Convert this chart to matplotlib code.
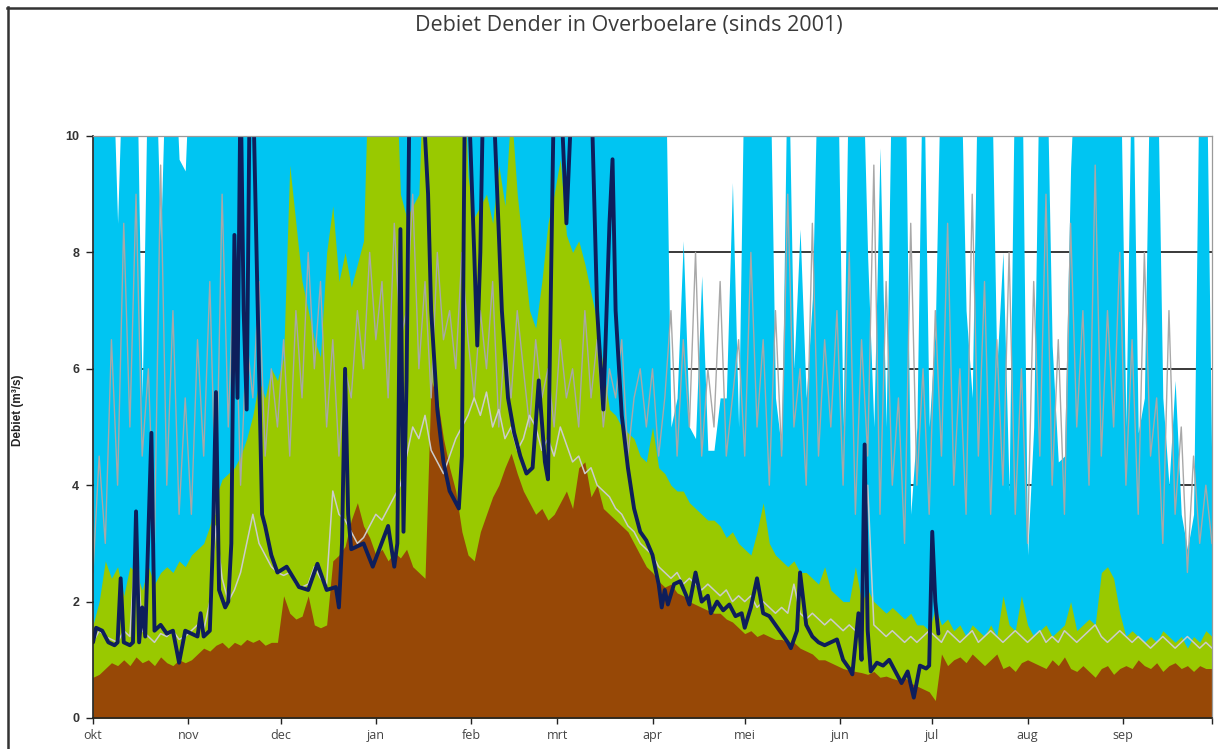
import numpy as np
import matplotlib
matplotlib.use("Agg")
import matplotlib.pyplot as plt
from matplotlib.lines import Line2D

# ---------------- data ----------------
title = "Debiet Dender in Overboelare (sinds 2001)"
ylabel = "Debiet (m\u00b3/s)"
month_labels = ["okt", "nov", "dec", "jan", "feb", "mrt", "apr", "mei", "jun", "jul", "aug", "sep"]
month_days = [31, 30, 31, 31, 28, 31, 30, 31, 30, 31, 31, 30]
y_ticks = [0, 2, 4, 6, 8, 10]

# background series, one value every 2 days from 1 October (values > 10 are off-scale)
q_max = [
    12, 12, 12, 12, 8.5, 12, 12, 12, 5.5, 12, 12, 8.2, 12, 12, 9.6, 9.4,            # okt
    12, 12, 12, 12, 12, 12, 12, 12, 12, 12, 12, 12, 12, 12, 12,                     # nov
    12, 12, 12, 12, 12, 12, 12, 12, 12, 12, 12, 12, 12, 12, 12,                     # dec
    12, 12, 12, 12, 12, 12, 12, 12, 12, 12, 12, 12, 12, 12, 12, 12,                 # jan
    12, 12, 12, 12, 12, 12, 12, 12, 12, 12, 12, 12, 12, 12,                         # feb
    12, 12, 12, 12, 12, 12, 12, 12, 12, 12, 12, 12, 12, 12, 12,                     # mrt
    12, 12, 12, 5.0, 5.5, 8.2, 5.0, 4.8, 7.6, 4.6, 4.6, 5.5, 5.5, 9.2, 5.0,         # apr
    12, 12, 12, 12, 12, 5.5, 4.6, 12, 6.0, 8.4, 5.5, 7.2, 12, 12, 12, 12,           # mei
    5.0, 12, 12, 12, 7.9, 5.0, 9.8, 5.0, 12, 12, 12, 3.5, 5.0, 12, 5.0,             # jun
    6.7, 12, 12, 12, 12, 7.0, 5.5, 12, 12, 12, 6.0, 8.0, 3.9, 12, 12,               # jul
    2.8, 5.0, 12, 12, 6.4, 4.4, 4.5, 9.45, 12, 12, 12, 12, 12, 12, 12, 12,          # aug
    5.0, 12, 4.9, 5.5, 12, 12, 5.5, 4.0, 5.8, 3.5, 2.9, 3.5, 12, 12, 4.0,           # sep
]
q_high = [
    1.6, 2.0, 2.7, 2.4, 2.6, 2.1, 2.6, 2.5, 2.2, 2.6, 2.3, 2.5, 2.6, 2.5, 2.7, 2.6,
    2.8, 2.9, 3.0, 3.3, 3.8, 4.1, 4.2, 4.3, 4.5, 4.8, 5.2, 5.8, 5.5, 6.0, 5.8,
    6.2, 9.5, 8.5, 7.5, 7.0, 6.5, 6.2, 8.0, 8.8, 7.5, 8.0, 7.4, 7.8, 8.2, 12,
    12, 12, 12, 12, 9.0, 8.6, 8.8, 9.0, 12, 12, 12, 12, 12, 10.5, 12, 9.3,
    8.6, 8.8, 9.0, 8.5, 9.5, 8.8, 10.5, 9.0, 8.0, 7.0, 6.7, 7.5, 8.5, 9.0,
    9.6, 8.3, 8.0, 8.2, 7.8, 7.3, 6.8, 6.0, 5.3, 5.2, 5.0, 4.9, 4.8, 4.5, 4.4,
    5.0, 4.3, 4.2, 4.0, 3.9, 3.9, 3.7, 3.6, 3.5, 3.4, 3.4, 3.3, 3.1, 3.2, 3.0,
    2.9, 2.8, 3.2, 3.7, 3.0, 2.8, 2.7, 2.6, 2.7, 2.5, 2.5, 2.4, 2.3, 2.6, 2.2, 2.1,
    2.0, 2.0, 2.6, 2.0, 2.2, 2.0, 1.9, 1.8, 1.9, 1.8, 1.7, 1.8, 1.6, 1.6, 1.5,
    1.9, 1.6, 1.7, 1.5, 1.6, 1.4, 1.6, 1.5, 1.4, 1.6, 1.4, 2.1, 1.6, 1.5, 2.1,
    1.6, 1.4, 1.5, 1.6, 1.4, 1.5, 1.6, 2.0, 1.5, 1.6, 1.7, 1.6, 2.5, 2.6, 2.4, 1.8,
    1.4, 1.5, 1.4, 1.3, 1.4, 1.3, 1.5, 1.4, 1.3, 1.4, 1.2, 1.4, 1.3, 1.5, 1.4,
]
q_min = [
    0.7, 0.75, 0.85, 0.95, 0.9, 1.0, 0.9, 1.05, 0.95, 1.0, 0.9, 1.05, 0.95, 0.9, 1.0, 0.95,
    1.0, 1.1, 1.2, 1.15, 1.25, 1.3, 1.2, 1.3, 1.25, 1.35, 1.3, 1.35, 1.25, 1.3, 1.3,
    2.1, 1.8, 1.7, 1.75, 2.1, 1.6, 1.55, 1.6, 2.7, 2.8, 2.95, 3.4, 3.7, 3.3, 3.1,
    2.8, 2.9, 2.7, 2.85, 2.75, 2.9, 2.6, 2.5, 2.4, 5.8, 5.5, 4.8, 4.3, 3.9, 3.2, 2.8,
    2.7, 3.2, 3.5, 3.8, 4.0, 4.3, 4.55, 4.2, 3.9, 3.7, 3.5, 3.6, 3.4, 3.5,
    3.7, 3.9, 3.6, 4.3, 4.4, 3.8, 4.0, 3.6, 3.5, 3.4, 3.3, 3.2, 3.0, 2.8, 2.6,
    2.5, 2.35, 2.25, 2.3, 2.15, 2.1, 2.0, 1.95, 1.9, 1.85, 1.8, 1.8, 1.7, 1.65, 1.55,
    1.45, 1.5, 1.4, 1.45, 1.4, 1.35, 1.35, 1.3, 1.3, 1.2, 1.15, 1.1, 1.0, 1.0, 0.95, 0.9,
    0.85, 0.82, 0.8, 0.78, 0.75, 0.8, 0.7, 0.72, 0.68, 0.65, 0.7, 0.6, 0.55, 0.5, 0.45,
    0.3, 1.1, 0.9, 1.0, 1.05, 0.95, 1.1, 1.0, 0.9, 1.0, 1.1, 0.85, 0.9, 0.8, 0.95,
    1.0, 0.95, 0.9, 0.85, 1.0, 0.9, 1.05, 0.85, 0.8, 0.9, 0.8, 0.7, 0.85, 0.9, 0.75, 0.85,
    0.9, 0.85, 1.0, 0.9, 0.85, 0.95, 0.8, 0.9, 0.95, 0.85, 0.9, 0.8, 0.9, 0.85, 0.85,
]
q_grey_a = [
    2.5, 4.5, 3.0, 6.5, 4.0, 8.5, 5.0, 9.0, 4.5, 6.0, 3.0, 9.5, 4.0, 7.0, 3.5, 5.5,
    3.5, 6.5, 4.5, 7.5, 3.5, 9.0, 5.0, 8.0, 4.0, 6.5, 5.5, 7.5, 4.5, 6.0, 5.0,
    6.5, 4.5, 7.0, 5.5, 8.0, 6.0, 7.5, 5.0, 6.5, 4.5, 6.0, 5.5, 7.0, 6.0, 8.0,
    6.5, 7.5, 5.5, 8.5, 6.5, 7.0, 9.0, 6.0, 7.5, 5.5, 8.0, 6.5, 7.0, 6.0, 8.0, 6.5,
    5.5, 7.0, 6.0, 7.5, 5.0, 6.5, 5.5, 7.0, 6.0, 5.0, 6.5, 5.5, 6.0, 5.0,
    6.5, 5.5, 6.0, 5.0, 7.0, 5.5, 6.5, 5.0, 6.0, 5.5, 6.5, 4.5, 5.5, 6.0, 5.0,
    6.0, 4.5, 5.5, 7.0, 4.5, 6.5, 5.0, 8.0, 4.5, 6.0, 5.0, 7.5, 4.5, 5.5, 6.5,
    4.5, 8.0, 5.0, 6.5, 4.0, 7.0, 4.5, 9.0, 5.0, 6.0, 4.0, 8.5, 4.5, 6.5, 5.0, 7.0,
    4.0, 8.0, 3.5, 6.5, 4.5, 9.5, 3.5, 7.5, 4.0, 5.5, 3.0, 8.5, 4.0, 6.0, 3.5,
    7.0, 4.5, 8.5, 4.0, 6.0, 3.5, 9.0, 4.5, 7.5, 3.5, 6.5, 4.0, 8.0, 3.5, 6.0,
    3.0, 7.5, 4.5, 9.0, 4.0, 6.5, 3.5, 8.5, 5.0, 7.0, 4.0, 9.5, 4.5, 7.0, 5.0, 8.0,
    4.0, 6.5, 3.5, 8.0, 4.5, 5.5, 3.0, 7.0, 3.5, 5.0, 2.5, 4.5, 3.0, 4.0, 3.0,
]
q_grey_b = [
    1.3, 1.5, 1.4, 1.35, 1.3, 1.5, 1.4, 3.2, 1.5, 1.4, 1.3, 1.45, 1.4, 1.5, 1.35, 1.4,
    1.5, 1.6, 1.5, 2.0, 3.3, 2.4, 2.0, 2.2, 2.5, 3.0, 3.5, 3.0, 2.8, 2.6, 2.5,
    2.45, 2.5, 2.3, 2.25, 2.3, 2.6, 2.4, 2.3, 3.9, 3.5, 3.4, 3.2, 3.0, 3.1, 3.3,
    3.5, 3.4, 3.6, 3.8, 4.0, 4.5, 5.0, 4.8, 5.2, 4.6, 4.4, 4.2, 4.5, 4.8, 5.0, 5.2,
    5.5, 5.2, 5.6, 5.0, 5.3, 4.8, 5.0, 4.6, 4.8, 5.2, 5.0, 4.6, 4.8, 4.5,
    5.0, 4.7, 4.4, 4.5, 4.2, 4.3, 4.0, 3.9, 3.8, 3.6, 3.5, 3.3, 3.2, 3.0, 2.9,
    2.8, 2.6, 2.5, 2.4, 2.5, 2.3, 2.4, 2.3, 2.2, 2.3, 2.2, 2.1, 2.2, 2.0, 2.1,
    2.0, 2.1, 1.9, 2.0, 1.9, 1.8, 1.9, 1.8, 2.3, 1.8, 1.7, 1.8, 1.7, 1.6, 1.7, 1.6,
    1.5, 1.6, 1.5, 1.5, 4.0, 1.6, 1.5, 1.4, 1.5, 1.4, 1.3, 1.4, 1.3, 1.4, 1.5,
    1.4, 1.3, 1.5, 1.4, 1.3, 1.4, 1.5, 1.3, 1.4, 1.5, 1.4, 1.3, 1.4, 1.5, 1.4,
    1.3, 1.4, 1.5, 1.3, 1.4, 1.3, 1.5, 1.4, 1.3, 1.4, 1.5, 1.6, 1.4, 1.3, 1.4, 1.5,
    1.4, 1.3, 1.4, 1.3, 1.2, 1.3, 1.4, 1.3, 1.2, 1.3, 1.4, 1.3, 1.2, 1.3, 1.2,
]

# current hydrological year (day since 1 October, value)
navy_day = [0, 1, 3, 5, 7, 8, 9, 10, 12, 13, 14, 15, 16, 17, 19, 20, 22, 24, 26, 28, 30,
            32, 34, 35, 36, 38, 39, 40, 41, 43, 44, 45, 46, 47, 48, 49, 50, 51, 52, 54, 55,
            56, 58, 60, 63, 67, 70, 73, 76, 79, 80, 81, 82, 83, 84, 88, 91, 96, 98, 99, 100,
            101, 102, 103, 105, 107, 109, 110, 112, 114, 116, 119, 120, 121, 122, 124, 125,
            126, 127, 130, 133, 135, 137, 139, 141, 143, 145, 147, 148, 150, 152, 154, 156,
            158, 160, 162, 164, 166, 168, 169, 170, 172, 174, 176, 178, 180, 182, 184, 185,
            186, 187, 189, 191, 193, 194, 196, 198, 200, 201, 203, 205, 207, 209, 211, 212,
            214, 216, 218, 220, 222, 224, 226, 227, 229, 230, 232, 234, 236, 238, 240, 242,
            244, 246, 247, 249, 250, 251, 252, 253, 255, 257, 259, 261, 263, 265, 267, 269,
            271, 272, 273, 274, 275]
navy_val = [1.3, 1.55, 1.5, 1.3, 1.25, 1.3, 2.4, 1.3, 1.25, 1.3, 3.55, 1.3, 1.9, 1.4, 4.9, 1.5,
            1.6, 1.45, 1.5, 0.95, 1.5,
            1.45, 1.4, 1.8, 1.4, 1.5, 3.0, 5.6, 2.2, 1.9, 2.0, 3.0, 8.3, 5.5, 11, 7.0, 5.3, 11,
            11, 6.0, 3.5,
            3.3, 2.8, 2.5, 2.6, 2.25, 2.2, 2.65, 2.2, 2.25, 1.9, 3.0, 6.0, 3.5, 2.9, 3.0, 2.6,
            3.3, 2.6, 3.0, 8.4,
            3.2, 5.8, 11, 11, 11, 9.0, 7.0, 5.3, 4.4, 3.9, 3.6, 4.5, 11, 11, 8.0, 6.4,
            8.0, 11, 11, 7.0, 5.5, 4.9, 4.5, 4.2, 4.3, 5.8, 4.4, 4.1, 11, 11, 8.5, 11,
            11, 11, 11, 7.0, 5.3, 8.5, 9.6, 7.0, 5.2, 4.3, 3.6, 3.2, 3.05, 2.8, 2.3, 1.9,
            2.2, 1.95, 2.3, 2.35, 2.1, 1.95, 2.5, 2.0, 2.1, 1.8, 2.0, 1.85, 1.95, 1.75, 1.8,
            1.55,
            1.9, 2.4, 1.8, 1.75, 1.6, 1.45, 1.3, 1.2, 1.5, 2.5, 1.6, 1.4, 1.3, 1.25, 1.3, 1.35,
            1.0, 0.85, 0.75, 1.8, 1.0, 4.7, 1.5, 0.8, 0.95, 0.9, 1.0, 0.8, 0.6, 0.8, 0.35, 0.9,
            0.85, 0.9, 3.2, 2.0, 1.45]

# ---------------- figure ----------------
W, H = 1218, 749
fig = plt.figure(figsize=(W / 100, H / 100), dpi=100)
fig.patch.set_facecolor("white")

ax = fig.add_axes([93 / W, 1 - 718 / H, (1212 - 93) / W, (718 - 136) / H])

days = np.arange(len(q_max)) * 2

ax.fill_between(days, 0, q_max, color="#00C5F2", lw=0, zorder=1)
ax.fill_between(days, 0, q_high, color="#99C900", lw=0, zorder=2)
ax.fill_between(days, 0, q_min, color="#974806", lw=0, zorder=3)
ax.plot(days, q_grey_a, color="#a8a8a8", lw=1.0, zorder=4)
ax.plot(days, q_grey_b, color="#cccccc", lw=1.1, zorder=4)
ax.plot(navy_day, navy_val, color="#0E1E5B", lw=2.8, zorder=5,
        solid_joinstyle="round", solid_capstyle="round")

ax.set_xlim(0, days[-1])
ax.set_ylim(0, 10)

ax.set_yticks(y_ticks)
ax.set_yticklabels([str(t) for t in y_ticks])
ax.yaxis.grid(True, color="#2a2a2a", lw=1.3)
ax.set_axisbelow(True)

month_start = np.concatenate([[0], np.cumsum(month_days)[:-1]])
ax.set_xticks(month_start)
ax.set_xticklabels(month_labels)
ax.set_xticks([sum(month_days) - 1], minor=True)

ax.tick_params(axis="y", direction="out", length=5, width=1, color="#222", pad=5,
               labelsize=9, labelcolor="#333333")
ax.tick_params(axis="x", which="both", direction="out", length=4, width=1, color="#222",
               pad=4, labelsize=9, labelcolor="#444444")
for lab in ax.get_yticklabels():
    lab.set_fontfamily("Liberation Sans")
    lab.set_fontweight("bold")
for lab in ax.get_xticklabels():
    lab.set_fontfamily("Open Sans")

for side in ("left", "bottom"):
    ax.spines[side].set_color("#222222")
    ax.spines[side].set_linewidth(1.2)
for side in ("top", "right"):
    ax.spines[side].set_color("#9a9a9a")
    ax.spines[side].set_linewidth(0.9)
for s in ax.spines.values():
    s.set_zorder(6)

fig.text(629 / W, 1 - 26 / H, title, ha="center", va="center", fontsize=15.5,
         family="Open Sans", color="#3a3a3a")
fig.text(18 / W, 1 - 410 / H, ylabel, rotation=90, ha="center", va="center",
         fontsize=8.5, fontweight="bold", family="Liberation Sans", color="#222222")

# outer frame (top and left edges)
fig.add_artist(Line2D([7 / W, 1], [1 - 7.5 / H, 1 - 7.5 / H], transform=fig.transFigure,
                      color="#333333", lw=1.8))
fig.add_artist(Line2D([7.5 / W, 7.5 / W], [0, 1 - 7 / H], transform=fig.transFigure,
                      color="#333333", lw=1.8))

fig.savefig("out.png", dpi=100)
